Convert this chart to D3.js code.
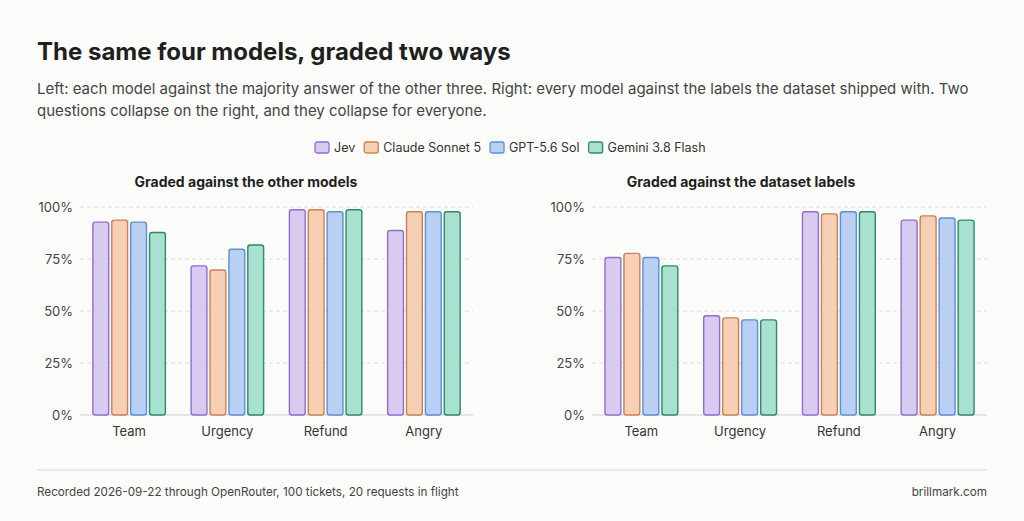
<!DOCTYPE html><html><head><meta charset="utf-8"><script src="https://cdn.jsdelivr.net/npm/d3@7"></script>
<style>body{margin:0;background:#fcfcfb;font-family:Inter,"Noto Sans",sans-serif}</style></head><body><svg id="c" width="1024" height="521"></svg><script>
const categories=["Team","Urgency","Refund","Angry"];
const models=["Jev","Claude Sonnet 5","GPT-5.6 Sol","Gemini 3.8 Flash"];
const leftValues=[[93,94,93,88],[72,70,80,82],[99,99,98,99],[89,98,98,98]];
const rightValues=[[76,78,76,72],[48,47,46,46],[98,97,98,98],[94,96,95,94]];
const yTicks=[0,25,50,75,100];
const fills=["#d8cbef","#f5d0b4","#bad0f2","#a9e1d1"];
const strokes=["#8e6fd0","#cf8051","#5d8fd8","#2a8a6c"];
const svg=d3.select("#c");
svg.append("rect").attr("width",1024).attr("height",521).attr("fill","#fcfcfb");
svg.append("text").attr("x",37).attr("y",60).attr("font-size",24).attr("font-weight",700).attr("fill","#1f1f1f").text("The same four models, graded two ways");
const sub=["Left: each model against the majority answer of the other three. Right: every model against the labels the dataset shipped with. Two","questions collapse on the right, and they collapse for everyone."];
sub.forEach((s,i)=>svg.append("text").attr("x",37).attr("y",94+i*22).attr("font-size",15).attr("fill","#444").text(s));
const lg=svg.append("g");let lx=315;
models.forEach((m,i)=>{const g=lg.append("g").attr("transform",`translate(${lx},142)`);
g.append("rect").attr("width",14).attr("height",11).attr("rx",2).attr("fill",fills[i]).attr("stroke",strokes[i]).attr("stroke-width",1.3);
const t=g.append("text").attr("x",19).attr("y",10).attr("font-size",12.5).attr("fill","#333").text(m);
lx+=19+t.node().getComputedTextLength()+9;});
function panel(x0,x1,tx,title,vals){
 const y=d3.scaleLinear().domain([0,100]).range([415,207]);
 const x=d3.scaleBand().domain(categories).range([x0,x1]).paddingInner(0.25).paddingOuter(0.125);
 const xs=d3.scaleBand().domain(d3.range(4)).range([0,x.bandwidth()]).paddingInner(0.1);
 const g=svg.append("g");
 g.append("text").attr("x",tx).attr("y",187).attr("text-anchor","middle").attr("font-size",14).attr("font-weight",700).attr("fill","#1f1f1f").text(title);
 yTicks.forEach(t=>{g.append("line").attr("x1",x0).attr("x2",x1).attr("y1",y(t)).attr("y2",y(t)).attr("stroke",t?"#dedede":"#cfcfcf").attr("stroke-dasharray",t?"4,3":null);
  g.append("text").attr("x",x0-7).attr("y",y(t)+4.5).attr("text-anchor","end").attr("font-size",13).attr("fill","#444").text(t+"%");});
 categories.forEach((c,ci)=>{vals[ci].forEach((v,mi)=>{g.append("rect").attr("x",x(c)+xs(mi)+0.6).attr("y",y(v)+0.6).attr("width",xs.bandwidth()-1.2).attr("height",y(0)-y(v)-0.6).attr("rx",2.5).attr("fill",fills[mi]).attr("stroke",strokes[mi]).attr("stroke-width",1.4);});
  g.append("text").attr("x",x(c)+x.bandwidth()/2).attr("y",436).attr("text-anchor","middle").attr("font-size",13).attr("fill","#333").text(c);});
}
panel(80,473,246,"Graded against the other models",leftValues);
panel(592,987,741,"Graded against the dataset labels",rightValues);
svg.append("line").attr("x1",37).attr("x2",987).attr("y1",470).attr("y2",470).attr("stroke","#ddd");
svg.append("text").attr("x",37).attr("y",496).attr("font-size",11.7).attr("fill","#444").text("Recorded 2026-09-22 through OpenRouter, 100 tickets, 20 requests in flight");
svg.append("text").attr("x",987).attr("y",496).attr("text-anchor","end").attr("font-size",11.7).attr("fill","#444").text("brillmark.com");
</script></body></html>
